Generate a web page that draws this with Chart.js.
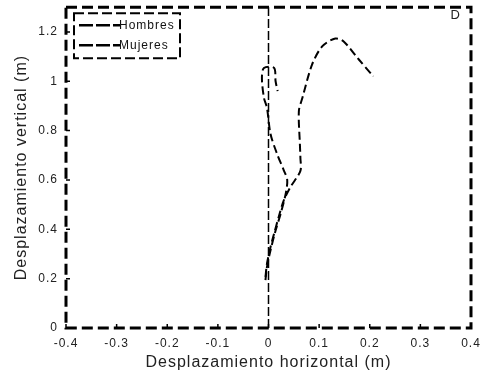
<!DOCTYPE html>
<html>
<head>
  <meta charset="UTF-8">
  <title>Desplazamiento</title>
  <script src="https://cdn.jsdelivr.net/npm/chart.js"></script>
  <style>
    body { margin: 0; background: #fff; }
  </style>
</head>
<body>
  <canvas id="chart" width="481" height="383"></canvas>

  <script>
    // series (x = horizontal, y = vertical, metres)
    const hombresX = [-0.006, -0.003, 0.004, 0.011, 0.020, 0.030, 0.043, 0.063, 0.063, 0.062, 0.060, 0.067, 0.086, 0.106, 0.132, 0.149, 0.178, 0.207];
    const hombresY = [0.207, 0.261, 0.328, 0.382, 0.449, 0.516, 0.570, 0.637, 0.690, 0.745, 0.879, 0.933, 1.067, 1.141, 1.173, 1.160, 1.089, 1.020];
    const mujeresX = [-0.006, -0.003, 0.004, 0.014, 0.024, 0.034, 0.037, 0.030, 0.017, 0.004, -0.003, -0.009, -0.013, -0.009, 0.011, 0.014, 0.018];
    const mujeresY = [0.194, 0.248, 0.315, 0.395, 0.463, 0.544, 0.600, 0.640, 0.705, 0.786, 0.892, 0.933, 1.013, 1.054, 1.054, 1.000, 0.960];

    const xTicks = [-0.4, -0.3, -0.2, -0.1, 0, 0.1, 0.2, 0.3, 0.4];
    const xTickLabels = ['-0.4', '-0.3', '-0.2', '-0.1', '0', '0.1', '0.2', '0.3', '0.4'];
    const yTicks = [0, 0.2, 0.4, 0.6, 0.8, 1, 1.2];
    const yTickLabels = ['0', '0.2', '0.4', '0.6', '0.8', '1', '1.2'];

    const toPoints = (xs, ys) => xs.map((x, i) => ({ x: x, y: ys[i] }));

    const FONT = '"Liberation Sans", Arial, sans-serif';
    const DASH = [11, 5];

    // the source figure has slightly spaced-out lettering
    const spacingPlugin = {
      id: 'spacing',
      beforeDraw(chart) { chart.ctx.letterSpacing = '1px'; }
    };

    // dashed frame, zero line, inward ticks, panel letter, legend box
    const framePlugin = {
      id: 'frame',
      beforeDatasetsDraw(chart) {
        const { ctx, chartArea: a, scales } = chart;
        ctx.save();
        ctx.strokeStyle = '#000';
        ctx.lineWidth = 1.5;
        ctx.setLineDash([9, 3]);
        const x0 = scales.x.getPixelForValue(0);
        ctx.beginPath();
        ctx.moveTo(x0, a.bottom);
        ctx.lineTo(x0, a.top);
        ctx.stroke();
        ctx.restore();
      },
      afterDatasetsDraw(chart) {
        const { ctx, chartArea: a, scales } = chart;
        ctx.save();
        ctx.strokeStyle = '#000';
        ctx.lineWidth = 3;
        ctx.setLineDash(DASH);
        ctx.strokeRect(a.left, a.top, a.right - a.left, a.bottom - a.top);
        ctx.setLineDash([]);
        ctx.lineWidth = 1.5;
        ctx.beginPath();
        xTicks.forEach(v => {
          const px = scales.x.getPixelForValue(v);
          ctx.moveTo(px, a.bottom);
          ctx.lineTo(px, a.bottom - 4);
        });
        yTicks.forEach(v => {
          const py = scales.y.getPixelForValue(v);
          ctx.moveTo(a.left, py);
          ctx.lineTo(a.left + 4, py);
        });
        ctx.stroke();
        ctx.fillStyle = '#222';
        ctx.font = '13px ' + FONT;
        ctx.textAlign = 'right';
        ctx.textBaseline = 'middle';
        ctx.fillText('D', a.right - 10, a.top + 8);

        // legend box
        const lx = a.left + 8, ly = a.top + 6, lw = 106, lh = 45;
        ctx.lineWidth = 2;
        ctx.setLineDash([10, 4]);
        ctx.fillStyle = '#fff';
        ctx.fillRect(lx, ly, lw, lh);
        ctx.strokeRect(lx, ly, lw, lh);
        ctx.font = '12px ' + FONT;
        ctx.textAlign = 'left';
        chart.data.datasets.forEach((ds, i) => {
          const yy = ly + 12 + i * 20;
          ctx.setLineDash([14, 3]);
          ctx.lineWidth = 2.5;
          ctx.beginPath();
          ctx.moveTo(lx + 5, yy);
          ctx.lineTo(lx + 46, yy);
          ctx.stroke();
          ctx.fillStyle = '#111';
          ctx.fillText(ds.label, lx + 45, yy);
        });
        ctx.restore();
      }
    };

    new Chart(document.getElementById('chart'), {
      type: 'scatter',
      data: {
        datasets: [
          {
            label: 'Hombres',
            data: toPoints(hombresX, hombresY),
            showLine: true,
            borderColor: '#000',
            borderWidth: 2,
            borderDash: [8, 4],
            pointRadius: 0,
            tension: 0.3
          },
          {
            label: 'Mujeres',
            data: toPoints(mujeresX, mujeresY),
            showLine: true,
            borderColor: '#000',
            borderWidth: 2,
            borderDash: [8, 4],
            pointRadius: 0,
            tension: 0.3
          }
        ]
      },
      options: {
        responsive: false,
        animation: false,
        events: [],
        layout: { padding: { top: 6, right: 10, left: 0, bottom: 0 } },
        plugins: { legend: { display: false }, tooltip: { enabled: false } },
        scales: {
          x: {
            type: 'linear',
            min: -0.4,
            max: 0.4,
            grid: { display: false },
            border: { display: false },
            afterBuildTicks: s => { s.ticks = xTicks.map(v => ({ value: v })); },
            afterFit: s => { s.height = 55; },
            ticks: {
              color: '#222',
              padding: 0,
              maxRotation: 0,
              font: { family: FONT, size: 12 },
              callback: (v) => xTickLabels[xTicks.indexOf(v)]
            },
            title: {
              display: true,
              text: 'Desplazamiento horizontal (m)',
              color: '#222',
              padding: { top: 0, bottom: 11 },
              font: { family: FONT, size: 16 }
            }
          },
          y: {
            type: 'linear',
            min: 0,
            max: 1.3,
            grid: { display: false },
            border: { display: false },
            afterBuildTicks: s => { s.ticks = yTicks.map(v => ({ value: v })); },
            afterFit: s => { s.width = 66; },
            ticks: {
              color: '#222',
              padding: 0,
              font: { family: FONT, size: 12 },
              callback: (v) => yTickLabels[yTicks.indexOf(v)]
            },
            title: {
              display: true,
              text: 'Desplazamiento vertical (m)',
              color: '#222',
              padding: { top: 12, bottom: 0 },
              font: { family: FONT, size: 16 }
            }
          }
        }
      },
      plugins: [spacingPlugin, framePlugin]
    });
  </script>
</body>
</html>
